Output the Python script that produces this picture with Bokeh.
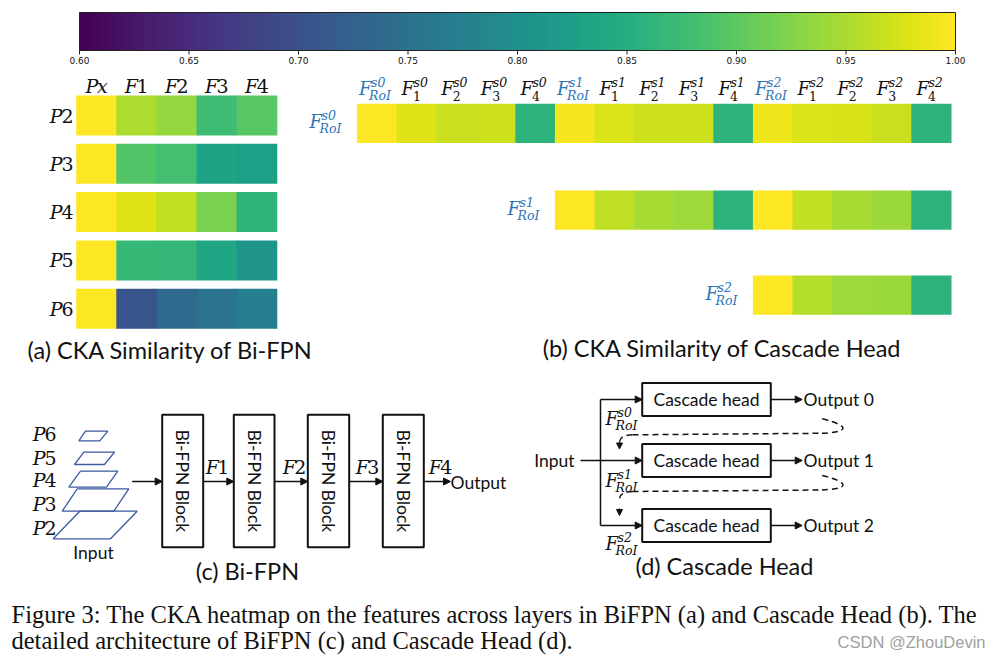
import numpy as np
from bokeh.plotting import figure
from bokeh.models import Range1d, LinearColorMapper, ColumnDataSource, Arrow, NormalHead
from bokeh.palettes import Viridis256
from bokeh.transform import transform
from bokeh.core.properties import value
from bokeh.embed import file_html
from bokeh.resources import INLINE

# ---------------- data ----------------
cb_ticks = [0.60, 0.65, 0.70, 0.75, 0.80, 0.85, 0.90, 0.95, 1.00]
cb_tick_labels = ["0.60", "0.65", "0.70", "0.75", "0.80", "0.85", "0.90", "0.95", "1.00"]

a_rows = ["P2", "P3", "P4", "P5", "P6"]
a_cols = ["Px", "F1", "F2", "F3", "F4"]
a_vals = [
    [1.000, 0.950, 0.936, 0.876, 0.896],
    [1.000, 0.892, 0.880, 0.832, 0.828],
    [1.000, 0.980, 0.964, 0.920, 0.860],
    [1.000, 0.868, 0.866, 0.836, 0.808],
    [1.000, 0.704, 0.736, 0.752, 0.772],
]

b_col_sup = ["s0"] * 5 + ["s1"] * 5 + ["s2"] * 5
b_col_sub = ["RoI", "1", "2", "3", "4"] * 3
b_row_sup = ["s0", "s1", "s2"]
b_row_start = [0, 5, 10]
b_row0 = [1.000, 0.980, 0.968, 0.970, 0.858, 0.995, 0.978, 0.970, 0.970, 0.858, 0.990, 0.978, 0.976, 0.968, 0.858]
b_row1 = [1.000, 0.962, 0.948, 0.942, 0.858, 1.000, 0.964, 0.948, 0.940, 0.858]
b_row2 = [1.000, 0.955, 0.942, 0.940, 0.858]
b_rows = [b_row0, b_row1, b_row2]

titles = ["(a) CKA Similarity of Bi-FPN", "(b) CKA Similarity of Cascade Head",
          "(c) Bi-FPN", "(d) Cascade Head"]
fig_caption = ["Figure 3: The CKA heatmap on the features across layers in BiFPN (a) and Cascade Head (b). The",
               "detailed architecture of BiFPN (c) and Cascade Head (d)."]
bifpn_feats = ["F1", "F2", "F3", "F4"]
pyramid = ["P6", "P5", "P4", "P3", "P2"]
outputs = ["Output 0", "Output 1", "Output 2"]

# ---------------- layout (pixels) ----------------
W, H = 992, 658
CB_X0, CB_X1, CB_Y0, CB_Y1 = 79, 955, 12, 50
A_X0, A_CW, A_Y0, A_RH, A_PITCH = 76.0, 40.1, 95.0, 40.0, 48.3
B_X0, B_CW, B_RH = 356.7, 39.6, 39.3
B_ROW_Y = [103.3, 190.0, 275.0]

BLACK = "#111111"
BLUE = "#2e75b6"
SERIF = value("DejaVu Serif")
SANS = value("Lato")
MATH_SIZE = "18px"
SCRIPT_SIZE = "12.5px"

p = figure(width=W, height=H, x_range=Range1d(0, W), y_range=Range1d(H, 0),
           output_backend="svg", toolbar_location=None, x_axis_type=None, y_axis_type=None,
           min_border=0, outline_line_color=None)
p.background_fill_color = "white"
p.border_fill_color = "white"

mapper = LinearColorMapper(palette=Viridis256, low=0.6, high=1.0)

# ---------------- colour bar ----------------
grad = np.linspace(0.6, 1.0, 600).reshape(1, -1)
p.image(image=[grad], x=CB_X0, y=CB_Y0, dw=CB_X1 - CB_X0, dh=CB_Y1 - CB_Y0, color_mapper=mapper)
p.quad(left=[CB_X0], right=[CB_X1], top=[CB_Y0], bottom=[CB_Y1], fill_color=None,
       line_color="#222222", line_width=1)
tx = [CB_X0 + (t - 0.6) / 0.4 * (CB_X1 - CB_X0) for t in cb_ticks]
p.segment(x0=tx, y0=[CB_Y1] * len(tx), x1=tx, y1=[CB_Y1 + 4] * len(tx), line_color="#222222", line_width=1)
p.text(x=tx, y=[CB_Y1 + 10] * len(tx), text=cb_tick_labels, text_align="center", text_baseline="middle",
       text_font=value("DejaVu Sans"), text_font_size="9px", text_color=BLACK)

# ---------------- math-like label collectors ----------------
IT = dict(x=[], y=[], t=[], c=[])      # italic 19px letters
UP = dict(x=[], y=[], t=[], c=[])      # upright 19px digits
LW, DW = 11.6, 12.1                     # approx advance of italic letter / digit at 19px


def var_label(s, x, y, align):
    """letter italic + rest (digit upright / letter italic)."""
    rest_w = DW if s[1:].isdigit() else 10.6
    tot = LW + rest_w
    if align == "center":
        x0 = x - tot / 2
    else:  # right
        x0 = x - tot
    IT["x"].append(x0); IT["y"].append(y); IT["t"].append(s[0]); IT["c"].append(BLACK)
    grp = UP if s[1:].isdigit() else IT
    grp["x"].append(x0 + LW); grp["y"].append(y); grp["t"].append(s[1:]); grp["c"].append(BLACK)


FL = dict(x=[], y=[], c=[])
SU = dict(x=[], y=[], t=[], c=[])
SBI = dict(x=[], y=[], t=[], c=[])
SBU = dict(x=[], y=[], t=[], c=[])


def flabel(fx, fy, sup, sub, color):
    FL["x"].append(fx); FL["y"].append(fy); FL["c"].append(color)
    SU["x"].append(fx + 12); SU["y"].append(fy - 6.5); SU["t"].append(sup); SU["c"].append(color)
    grp = SBI if sub == "RoI" else SBU
    grp["x"].append(fx + (10 if sub == "RoI" else 11.5)); grp["y"].append(fy + 7)
    grp["t"].append(sub); grp["c"].append(color)


# ---------------- heatmap (a) ----------------
ax, ay, av = [], [], []
for i, row in enumerate(a_vals):
    for j, v in enumerate(row):
        ax.append(A_X0 + (j + 0.5) * A_CW)
        ay.append(A_Y0 + i * A_PITCH + A_RH / 2)
        av.append(v)
p.rect(x="x", y="y", width=A_CW + 0.6, height=A_RH, source=ColumnDataSource(dict(x=ax, y=ay, v=av)),
       fill_color=transform("v", mapper), line_color=None)
for j, s in enumerate(a_cols):
    var_label(s, A_X0 + (j + 0.5) * A_CW, 85, "center")
for i, s in enumerate(a_rows):
    var_label(s, 73, A_Y0 + i * A_PITCH + A_RH / 2, "right")

# ---------------- heatmap (b) ----------------
bx, by, bv = [], [], []
for r, row in enumerate(b_rows):
    for k, v in enumerate(row):
        j = b_row_start[r] + k
        bx.append(B_X0 + (j + 0.5) * B_CW)
        by.append(B_ROW_Y[r] + B_RH / 2)
        bv.append(v)
p.rect(x="x", y="y", width=B_CW + 0.6, height=B_RH, source=ColumnDataSource(dict(x=bx, y=by, v=bv)),
       fill_color=transform("v", mapper), line_color=None)

for j in range(15):
    cx = B_X0 + (j + 0.5) * B_CW
    roi = b_col_sub[j] == "RoI"
    flabel(cx - (18 if roi else 15), 88, b_col_sup[j], b_col_sub[j], BLUE if roi else BLACK)
for r in range(3):
    start_x = B_X0 + b_row_start[r] * B_CW
    flabel(start_x - 47.7, B_ROW_Y[r] + B_RH / 2 - 1.5, b_row_sup[r], "RoI", BLUE)

# ---------------- diagram (c) Bi-FPN ----------------
par_tl = [85.0, 83.3, 80.0, 76.7, 79.3]
par_tr = [107.3, 114.0, 117.3, 128.3, 136.7]
par_bl = [78.3, 74.0, 68.3, 61.7, 52.7]
par_br = [99.3, 104.0, 106.0, 113.3, 110.0]
par_yt = [430.7, 451.7, 470.7, 488.3, 510.7]
par_yb = [440.3, 464.0, 486.7, 510.7, 538.3]
p.patches(xs=[[a, b, c, d] for a, b, c, d in zip(par_tl, par_tr, par_br, par_bl)],
          ys=[[t, t, b, b] for t, b in zip(par_yt, par_yb)],
          fill_color=None, line_color="#3d5a9e", line_width=1.3)
for s, yy in zip(pyramid, [433, 457, 479, 503, 527]):
    var_label(s, 56, yy, "right")
p.text(x=[93], y=[552], text=["Input"], text_align="center", text_baseline="middle",
       text_font=SANS, text_font_size="17.5px", text_color=BLACK)

blk_l = [161.7, 233.3, 307.3, 382.3]
blk_r = [202.7, 274.0, 348.7, 423.3]
p.quad(left=blk_l, right=blk_r, top=[414.3] * 4, bottom=[546.7] * 4, fill_color=None,
       line_color=BLACK, line_width=2)
p.text(x=[(l + r) / 2 for l, r in zip(blk_l, blk_r)], y=[480.5] * 4, text=["Bi-FPN Block"] * 4,
       angle=-np.pi / 2, text_align="center", text_baseline="middle", text_font=SANS,
       text_font_size="17.5px", text_color=BLACK)
c_xs = [131.7] + blk_r
c_xe = blk_l + [450.0]
p.add_layout(Arrow(end=NormalHead(size=7, fill_color=BLACK, line_color=BLACK), line_width=1.5,
                   line_color=BLACK,
                   source=ColumnDataSource(dict(x0=c_xs, y0=[481] * 5, x1=c_xe, y1=[481] * 5)),
                   x_start="x0", y_start="y0", x_end="x1", y_end="y1"))
for s, xx in zip(bifpn_feats, [217, 294, 367, 440]):
    var_label(s, xx, 466, "center")
p.text(x=[450], y=[482], text=["Output"], text_align="left", text_baseline="middle",
       text_font=SANS, text_font_size="17.5px", text_color=BLACK)

# ---------------- diagram (d) Cascade head ----------------
hy = [399.0, 460.0, 525.0]
p.quad(left=[641.7] * 3, right=[770.3] * 3, top=[y - 16.5 for y in hy], bottom=[y + 16.5 for y in hy],
       fill_color=None, line_color=BLACK, line_width=2)
p.text(x=[706] * 3, y=hy, text=["Cascade head"] * 3, text_align="center", text_baseline="middle",
       text_font=SANS, text_font_size="17.5px", text_color=BLACK)
p.text(x=[803] * 3, y=hy, text=outputs, text_align="left", text_baseline="middle",
       text_font=SANS, text_font_size="17.5px", text_color=BLACK)
p.text(x=[574], y=[460], text=["Input"], text_align="right", text_baseline="middle",
       text_font=SANS, text_font_size="17.5px", text_color=BLACK)
p.segment(x0=[600], y0=[hy[0]], x1=[600], y1=[hy[2]], line_color=BLACK, line_width=1.5)
d_xs = [600, 580, 600, 770.3, 770.3, 770.3]
d_xe = [641.7, 641.7, 641.7, 801.7, 801.7, 801.7]
p.add_layout(Arrow(end=NormalHead(size=7, fill_color=BLACK, line_color=BLACK), line_width=1.5,
                   line_color=BLACK,
                   source=ColumnDataSource(dict(x0=d_xs, y0=hy + hy, x1=d_xe, y1=hy + hy)),
                   x_start="x0", y_start="y0", x_end="x1", y_end="y1"))
for r, fy in enumerate([418.3, 480.0, 543.0]):
    flabel(605, fy, b_row_sup[r], "RoI", BLACK)

# dashed feedback curves
dash_y0 = [418.3, 475.0]
dash_tip = [448.5, 515.0]
for y0, tip in zip(dash_y0, dash_tip):
    p.bezier(x0=[821.7], y0=[y0], x1=[818], y1=[y0 + 14.5], cx0=[850], cy0=[y0 + 7], cx1=[850], cy1=[y0 + 14],
             line_color=BLACK, line_width=1.5, line_dash="6 4")
    p.line(x=[818, 632], y=[y0 + 14.5, y0 + 16], line_color=BLACK, line_width=1.5, line_dash="6 4")
    p.bezier(x0=[632], y0=[y0 + 16], x1=[619], y1=[y0 + 24], cx0=[622], cy0=[y0 + 16.5], cx1=[619], cy1=[y0 + 19],
             line_color=BLACK, line_width=1.5, line_dash="6 4")
    p.add_layout(Arrow(end=NormalHead(size=6, fill_color=BLACK, line_color=BLACK), line_width=1.5,
                       line_color=BLACK, x_start=619, y_start=tip - 7, x_end=619, y_end=tip))

# draw math labels
p.text(x=IT["x"], y=IT["y"], text=IT["t"], text_color=IT["c"], text_align="left",
       text_baseline="middle", text_font=SERIF, text_font_style="italic", text_font_size="19px")
p.text(x=UP["x"], y=UP["y"], text=UP["t"], text_color=UP["c"], text_align="left",
       text_baseline="middle", text_font=SERIF, text_font_size="19px")
p.text(x=FL["x"], y=FL["y"], text=["F"] * len(FL["x"]), text_color=FL["c"], text_align="left",
       text_baseline="middle", text_font=SERIF, text_font_style="italic", text_font_size=MATH_SIZE)
p.text(x=SU["x"], y=SU["y"], text=SU["t"], text_color=SU["c"], text_align="left",
       text_baseline="middle", text_font=SERIF, text_font_style="italic", text_font_size=SCRIPT_SIZE)
p.text(x=SBI["x"], y=SBI["y"], text=SBI["t"], text_color=SBI["c"], text_align="left",
       text_baseline="middle", text_font=SERIF, text_font_style="italic", text_font_size=SCRIPT_SIZE)
p.text(x=SBU["x"], y=SBU["y"], text=SBU["t"], text_color=SBU["c"], text_align="left",
       text_baseline="middle", text_font=SERIF, text_font_size=SCRIPT_SIZE)

# ---------------- titles & caption ----------------
p.text(x=[170, 722, 247, 724], y=[349, 347, 570, 565], text=titles, text_align="center",
       text_baseline="middle", text_font=SANS, text_font_size="23.5px", text_color=BLACK)
p.text(x=[11, 11], y=[614, 640], text=fig_caption, text_align="left", text_baseline="middle",
       text_font=value("Liberation Serif"), text_font_size="24.5px", text_color=BLACK)
p.text(x=[985], y=[641], text=["CSDN @ZhouDevin"], text_align="right", text_baseline="middle",
       text_font=value("Liberation Sans"), text_font_size="16.5px", text_color="#a0a0a0")

open("out.html", "w").write(file_html(p, INLINE))
